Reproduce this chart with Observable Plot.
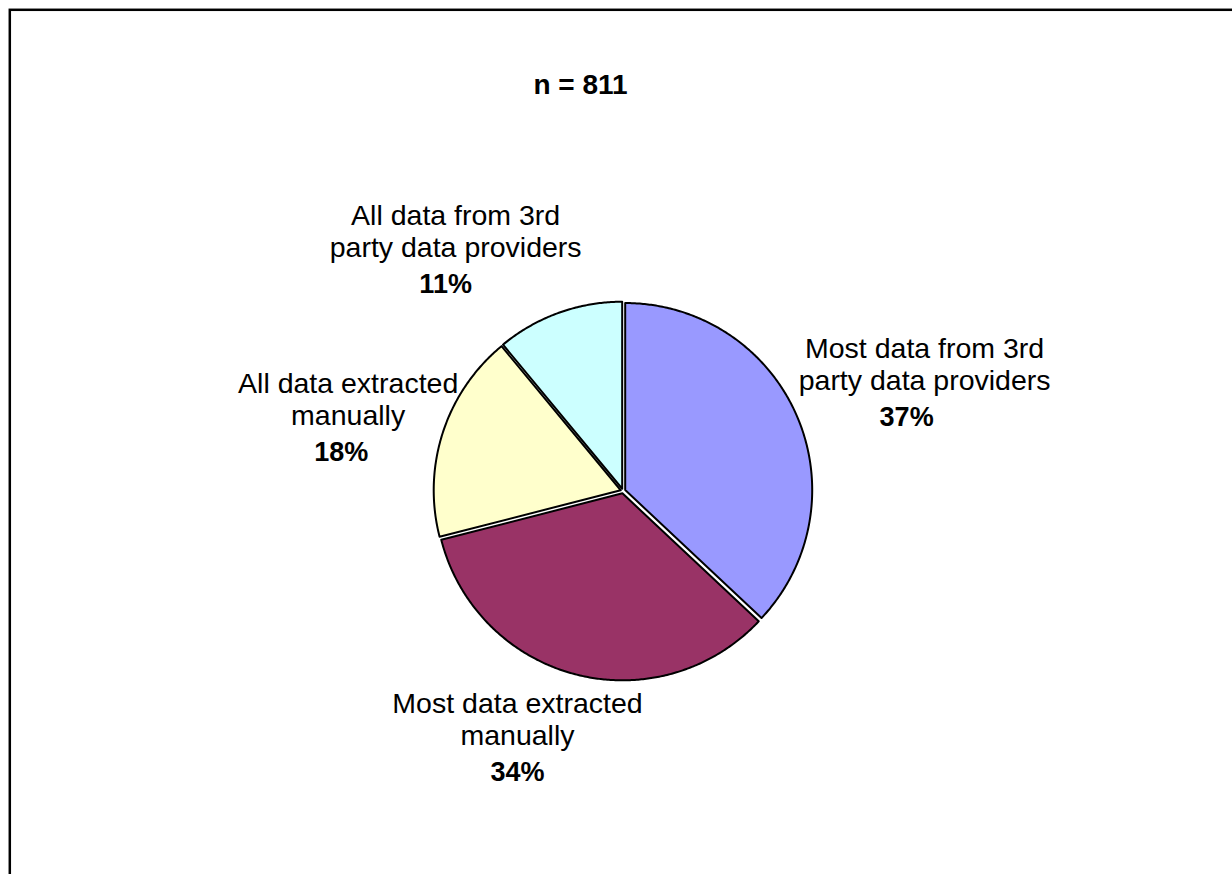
<!DOCTYPE html>
<html>
<head>
<meta charset="utf-8">
<script src="https://cdn.jsdelivr.net/npm/d3@7"></script>
<script src="https://cdn.jsdelivr.net/npm/@observablehq/plot@0.6"></script>
<style>
  html, body { margin: 0; padding: 0; background: #fff; overflow: hidden; }
</style>
</head>
<body>
<div id="chart"></div>
<script>
// ---- data ----
const title = "n = 811";
const categories = [
  "Most data from 3rd party data providers",
  "Most data extracted manually",
  "All data extracted manually",
  "All data from 3rd party data providers"
];
const labelLines = [
  ["Most data from 3rd", "party data providers"],
  ["Most data extracted", "manually"],
  ["All data extracted", "manually"],
  ["All data from 3rd", "party data providers"]
];
const shares = [37, 34, 18, 11];
const colors = ["#9999FF", "#993366", "#FFFFCC", "#CCFFFF"];

// ---- layout ----
const W = 1232, H = 874;
const cx = 622.5, cy = 490.5, R = 187;      // pie centre and radius (px)
const explode = 2.4 / R;                    // slight slice separation (radius units)
const labelNudge = [[130, -34], [-59, 66], [-97, -15], [-104, -65.5]]; // block centre from slice mid-point (px)
const pctShift = [-18, 0, -7, -10];         // horizontal shift of the percentage line (px)
const baselines = [-25, 7, 43];             // line baselines relative to block centre (px)
const font = "'Liberation Sans', Arial, Helvetica, sans-serif";

// ---- slice geometry (angles clockwise from 12 o'clock) ----
const total = d3.sum(shares);
let acc = 0;
const slices = shares.map((v, i) => {
  const a0 = acc / total * 2 * Math.PI;
  acc += v;
  const a1 = acc / total * 2 * Math.PI;
  return {i, v, a0, a1, mid: (a0 + a1) / 2, label: categories[i]};
});

function slicePoints(s) {
  const ox = Math.sin(s.mid) * explode, oy = Math.cos(s.mid) * explode;
  const pts = [{x: ox, y: oy}];
  const n = Math.max(2, Math.ceil((s.a1 - s.a0) / (Math.PI / 360)));
  for (let k = 0; k <= n; k++) {
    const a = s.a0 + (s.a1 - s.a0) * k / n;
    pts.push({x: ox + Math.sin(a), y: oy + Math.cos(a)});
  }
  pts.push({x: ox, y: oy});
  return pts;
}

// ---- label rows ----
const labelRows = [];
slices.forEach((s, i) => {
  const bx = Math.sin(s.mid) + labelNudge[i][0] / R;
  const by = Math.cos(s.mid) - labelNudge[i][1] / R;
  labelLines[i].forEach((t, j) => {
    labelRows.push({x: bx, y: by - baselines[j] / R, text: t, bold: false});
  });
  labelRows.push({x: bx + pctShift[i] / R, y: by - baselines[2] / R, text: `${s.v}%`, bold: true});
});

const chart = Plot.plot({
  width: W,
  height: H,
  margin: 0,
  x: {domain: [-cx / R, (W - cx) / R], range: [0, W], axis: null},
  y: {domain: [-(H - cy) / R, cy / R], range: [H, 0], axis: null},
  style: {fontFamily: font, background: "#fff", overflow: "hidden"},
  marks: [
    ...slices.map((s) =>
      Plot.line(slicePoints(s), {
        x: "x", y: "y",
        fill: colors[s.i],
        stroke: "#000",
        strokeWidth: 2,
        strokeLinejoin: "round",
        title: () => `${s.label}: ${s.v}%`
      })
    ),
    Plot.text(labelRows.filter((d) => !d.bold), {
      x: "x", y: "y", text: "text",
      lineAnchor: "bottom", textAnchor: "middle",
      fontSize: 28.5, fill: "#000"
    }),
    Plot.text(labelRows.filter((d) => d.bold), {
      x: "x", y: "y", text: "text",
      lineAnchor: "bottom", textAnchor: "middle",
      fontSize: 27, fontWeight: "bold", fill: "#000"
    }),
    Plot.text([title], {
      text: (d) => d,
      frameAnchor: "top", dx: -36, dy: 93,
      lineAnchor: "bottom", textAnchor: "middle",
      fontSize: 28, fontWeight: "bold", fill: "#000"
    }),
    Plot.frame({
      stroke: "#000", strokeWidth: 2.5,
      insetLeft: 9.3, insetTop: 9.3, insetRight: -30, insetBottom: -30
    })
  ]
});

document.getElementById("chart").appendChild(chart);
</script>
</body>
</html>
